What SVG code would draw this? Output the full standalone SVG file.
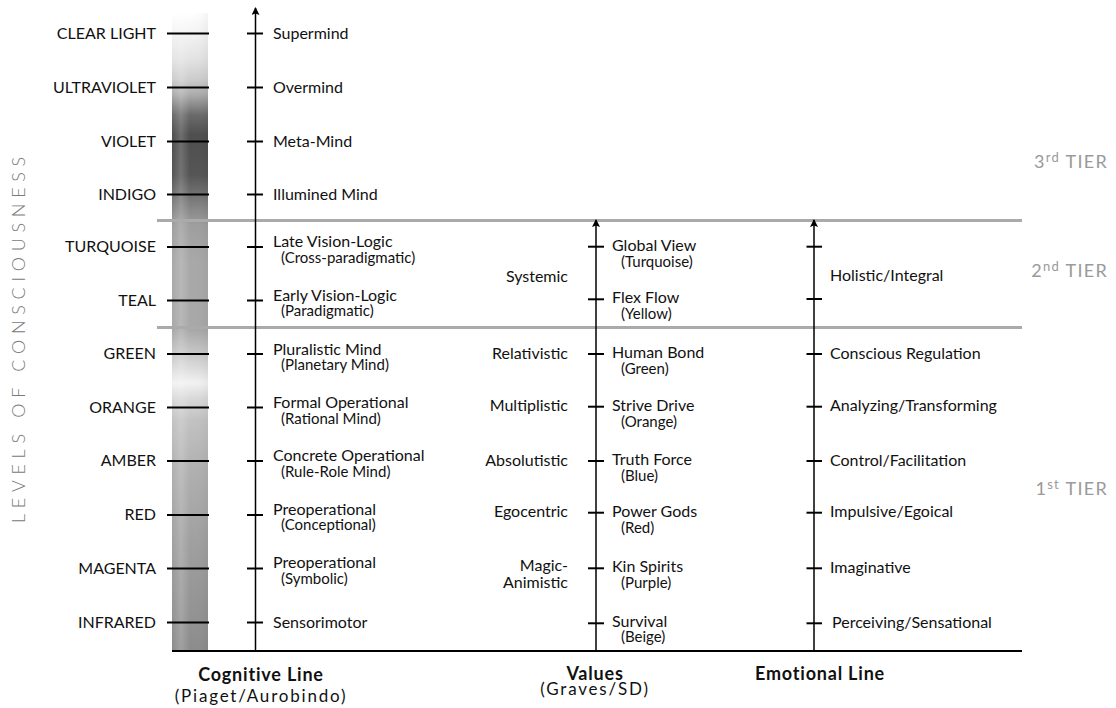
<svg xmlns="http://www.w3.org/2000/svg" width="1116" height="708" viewBox="0 0 1116 708">
<style>
text{font-family:Lato,"Open Sans","Liberation Sans",sans-serif;fill:#111}
.lvl{font-size:16px;text-anchor:end}
.m{font-size:16px}
.s{font-size:15px}
.vl{font-size:16px;text-anchor:end}
.tier{font-size:18px;fill:#9a9a9a;text-anchor:end;letter-spacing:1.3px}
.sup{font-size:13px}
.b{font-size:18px;font-weight:bold;text-anchor:middle;letter-spacing:0.8px}
.bs{font-size:17px;text-anchor:middle;letter-spacing:1.8px}
.tk{stroke:#000;stroke-width:2}
.ax{stroke:#000;stroke-width:1.5;fill:none}
.tl{stroke:#aaaaaa;stroke-width:3}
</style>
<defs>
<linearGradient id="bar" x1="0" y1="13" x2="0" y2="651" gradientUnits="userSpaceOnUse">
<stop offset="0" stop-color="#ffffff"/>
<stop offset="0.031" stop-color="#f4f4f4"/>
<stop offset="0.074" stop-color="#e2e2e2"/>
<stop offset="0.105" stop-color="#cccccc"/>
<stop offset="0.129" stop-color="#aaaaaa"/>
<stop offset="0.16" stop-color="#6a6a6a"/>
<stop offset="0.191" stop-color="#4e4e4e"/>
<stop offset="0.254" stop-color="#555555"/>
<stop offset="0.293" stop-color="#7a7a7a"/>
<stop offset="0.332" stop-color="#9e9e9e"/>
<stop offset="0.387" stop-color="#a8a8a8"/>
<stop offset="0.497" stop-color="#a8a8a8"/>
<stop offset="0.552" stop-color="#d8d8d8"/>
<stop offset="0.58" stop-color="#f2f2f2"/>
<stop offset="0.603" stop-color="#dadada"/>
<stop offset="0.638" stop-color="#c2c2c2"/>
<stop offset="0.716" stop-color="#b0b0b0"/>
<stop offset="0.826" stop-color="#a0a0a0"/>
<stop offset="1" stop-color="#8c8c8c"/>
</linearGradient>
<linearGradient id="sheen" x1="0" y1="0" x2="1" y2="0">
<stop offset="0" stop-color="#fff" stop-opacity="0"/>
<stop offset="0.25" stop-color="#fff" stop-opacity="0.18"/>
<stop offset="0.5" stop-color="#fff" stop-opacity="0"/>
<stop offset="1" stop-color="#000" stop-opacity="0.04"/>
</linearGradient>
<marker id="arr" markerWidth="8" markerHeight="8" refX="7" refY="4" orient="auto" markerUnits="userSpaceOnUse" viewBox="0 0 8 8">
<path d="M0,0 L8,4 L0,8 L1.5,4 Z" fill="#000"/>
</marker>
</defs>

<rect x="0" y="0" width="1116" height="708" fill="#fff"/>

<g id="spectrum-bar">
<rect x="172" y="13" width="36" height="638" fill="url(#bar)"/>
<rect x="172" y="13" width="36" height="638" fill="url(#sheen)"/>
</g>

<g id="tier-lines">
<line class="tl" x1="157" y1="220.5" x2="1022" y2="220.5"/>
<line class="tl" x1="157" y1="327.5" x2="1022" y2="327.5"/>
</g>

<g id="connectors">
<line class="ax" x1="255.5" y1="651" x2="255.5" y2="8" marker-end="url(#arr)"/>
<line class="ax" x1="596" y1="651" x2="596" y2="220" marker-end="url(#arr)"/>
<line class="ax" x1="814" y1="651" x2="814" y2="220" marker-end="url(#arr)"/>
<line x1="172" y1="651" x2="1022" y2="651" stroke="#000" stroke-width="2.2"/>
</g>

<g id="levels">
<g class="tk">
<line x1="167" y1="33.5" x2="209" y2="33.5"/>
<line x1="167" y1="87.5" x2="209" y2="87.5"/>
<line x1="167" y1="141.5" x2="209" y2="141.5"/>
<line x1="167" y1="194.5" x2="209" y2="194.5"/>
<line x1="167" y1="247" x2="209" y2="247"/>
<line x1="167" y1="300.5" x2="209" y2="300.5"/>
<line x1="167" y1="354" x2="209" y2="354"/>
<line x1="167" y1="407.5" x2="209" y2="407.5"/>
<line x1="167" y1="461" x2="209" y2="461"/>
<line x1="167" y1="515" x2="209" y2="515"/>
<line x1="167" y1="568.5" x2="209" y2="568.5"/>
<line x1="167" y1="622.5" x2="209" y2="622.5"/>
</g>
<text class="lvl" x="156" y="38.5">CLEAR LIGHT</text>
<text class="lvl" x="156" y="92.5">ULTRAVIOLET</text>
<text class="lvl" x="156" y="146.5">VIOLET</text>
<text class="lvl" x="156" y="199.5">INDIGO</text>
<text class="lvl" x="156" y="252">TURQUOISE</text>
<text class="lvl" x="156" y="305.5">TEAL</text>
<text class="lvl" x="156" y="359">GREEN</text>
<text class="lvl" x="156" y="412.5">ORANGE</text>
<text class="lvl" x="156" y="466">AMBER</text>
<text class="lvl" x="156" y="520">RED</text>
<text class="lvl" x="156" y="573.5">MAGENTA</text>
<text class="lvl" x="156" y="627.5">INFRARED</text>
</g>

<g id="cognitive-line">
<g class="tk">
<line x1="247" y1="33.5" x2="263" y2="33.5"/>
<line x1="247" y1="87.5" x2="263" y2="87.5"/>
<line x1="247" y1="141.5" x2="263" y2="141.5"/>
<line x1="247" y1="194.5" x2="263" y2="194.5"/>
<line x1="247" y1="247" x2="263" y2="247"/>
<line x1="247" y1="300.5" x2="263" y2="300.5"/>
<line x1="247" y1="354" x2="263" y2="354"/>
<line x1="247" y1="407.5" x2="263" y2="407.5"/>
<line x1="247" y1="461" x2="263" y2="461"/>
<line x1="247" y1="515" x2="263" y2="515"/>
<line x1="247" y1="568.5" x2="263" y2="568.5"/>
<line x1="247" y1="622.5" x2="263" y2="622.5"/>
</g>
<text class="m" x="273" y="38.5">Supermind</text>
<text class="m" x="273" y="92.5">Overmind</text>
<text class="m" x="273" y="146.5">Meta-Mind</text>
<text class="m" x="273" y="199.5">Illumined Mind</text>
<text class="m" x="273" y="247">Late Vision-Logic</text>
<text class="s" x="281" y="262.5">(Cross-paradigmatic)</text>
<text class="m" x="273" y="300.5">Early Vision-Logic</text>
<text class="s" x="281" y="316">(Paradigmatic)</text>
<text class="m" x="273" y="354.5">Pluralistic Mind</text>
<text class="s" x="281" y="370">(Planetary Mind)</text>
<text class="m" x="273" y="408">Formal Operational</text>
<text class="s" x="281" y="423.5">(Rational Mind)</text>
<text class="m" x="273" y="461">Concrete Operational</text>
<text class="s" x="281" y="476.5">(Rule-Role Mind)</text>
<text class="m" x="273" y="514.5">Preoperational</text>
<text class="s" x="281" y="530">(Conceptional)</text>
<text class="m" x="273" y="568">Preoperational</text>
<text class="s" x="281" y="583.5">(Symbolic)</text>
<text class="m" x="273" y="627.5">Sensorimotor</text>
</g>

<g id="values-line">
<g class="tk">
<line x1="588" y1="246.7" x2="604" y2="246.7"/>
<line x1="588" y1="299.3" x2="604" y2="299.3"/>
<line x1="588" y1="354" x2="604" y2="354"/>
<line x1="588" y1="406.7" x2="604" y2="406.7"/>
<line x1="588" y1="461" x2="604" y2="461"/>
<line x1="588" y1="512.7" x2="604" y2="512.7"/>
<line x1="588" y1="568.3" x2="604" y2="568.3"/>
<line x1="588" y1="623.3" x2="604" y2="623.3"/>
</g>
<text class="vl" x="568" y="281.5">Systemic</text>
<text class="vl" x="568" y="358.5">Relativistic</text>
<text class="vl" x="568" y="411">Multiplistic</text>
<text class="vl" x="568" y="465.5">Absolutistic</text>
<text class="vl" x="568" y="517">Egocentric</text>
<text class="vl" x="568" y="570.5">Magic-</text>
<text class="vl" x="568" y="587.5">Animistic</text>
<text class="m" x="612" y="250.5">Global View</text>
<text class="s" x="621" y="266.5">(Turquoise)</text>
<text class="m" x="612" y="303">Flex Flow</text>
<text class="s" x="621" y="319">(Yellow)</text>
<text class="m" x="612" y="358">Human Bond</text>
<text class="s" x="621" y="374">(Green)</text>
<text class="m" x="612" y="410.5">Strive Drive</text>
<text class="s" x="621" y="426.5">(Orange)</text>
<text class="m" x="612" y="465">Truth Force</text>
<text class="s" x="621" y="481">(Blue)</text>
<text class="m" x="612" y="516.5">Power Gods</text>
<text class="s" x="621" y="532.5">(Red)</text>
<text class="m" x="612" y="572">Kin Spirits</text>
<text class="s" x="621" y="588">(Purple)</text>
<text class="m" x="612" y="626.5">Survival</text>
<text class="s" x="621" y="642">(Beige)</text>
</g>

<g id="emotional-line">
<g class="tk">
<line x1="806.5" y1="246.7" x2="822" y2="246.7"/>
<line x1="806.5" y1="299" x2="822" y2="299"/>
<line x1="806.5" y1="354" x2="822" y2="354"/>
<line x1="806.5" y1="406.7" x2="822" y2="406.7"/>
<line x1="806.5" y1="461" x2="822" y2="461"/>
<line x1="806.5" y1="512.7" x2="822" y2="512.7"/>
<line x1="806.5" y1="568.3" x2="822" y2="568.3"/>
<line x1="806.5" y1="623.3" x2="822" y2="623.3"/>
</g>
<text class="m" x="830" y="280.5">Holistic/Integral</text>
<text class="m" x="830" y="358.5">Conscious Regulation</text>
<text class="m" x="830" y="411">Analyzing/Transforming</text>
<text class="m" x="830" y="465.5">Control/Facilitation</text>
<text class="m" x="830" y="517">Impulsive/Egoical</text>
<text class="m" x="830" y="572.5">Imaginative</text>
<text class="m" x="832" y="627.5">Perceiving/Sensational</text>
</g>

<g id="tiers">
<text class="tier" x="1108" y="168">3<tspan class="sup" dy="-6">rd</tspan><tspan dy="6"> TIER</tspan></text>
<text class="tier" x="1108" y="277">2<tspan class="sup" dy="-6">nd</tspan><tspan dy="6"> TIER</tspan></text>
<text class="tier" x="1108" y="495">1<tspan class="sup" dy="-6">st</tspan><tspan dy="6"> TIER</tspan></text>
</g>

<g id="axis-title">
<text transform="translate(24.5,523) rotate(-90)" font-size="18" font-weight="300" letter-spacing="5.7" style="fill:#7a7a7a">LEVELS OF CONSCIOUSNESS</text>
</g>

<g id="bottom-labels">
<text class="b" x="261" y="680.5">Cognitive Line</text>
<text class="bs" x="261" y="702">(Piaget/Aurobindo)</text>
<text class="b" x="595" y="680">Values</text>
<text class="bs" x="595" y="695">(Graves/SD)</text>
<text class="b" x="820" y="680">Emotional Line</text>
</g>
</svg>
